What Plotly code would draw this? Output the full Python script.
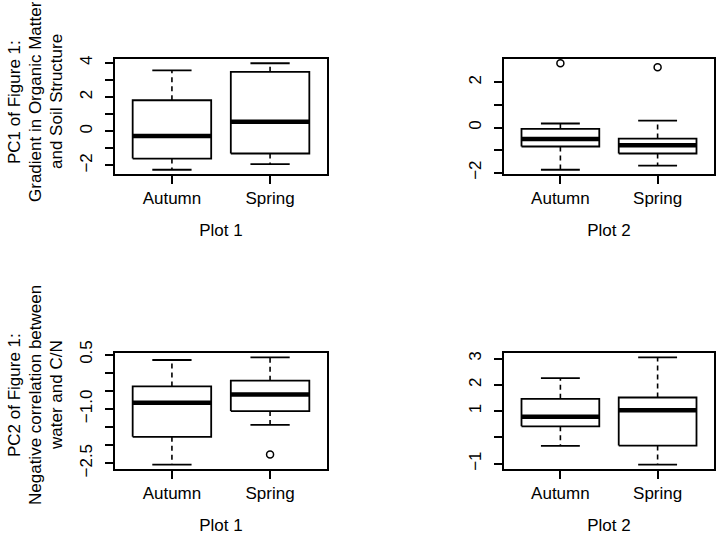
import plotly.graph_objects as go

# ---------------- data ----------------
categories = ["Autumn", "Spring"]
x_titles = ["Plot 1", "Plot 2", "Plot 1", "Plot 2"]

# PC1, Plot 1
pc1_p1_lower = [-2.25, -1.92]
pc1_p1_q1 = [-1.60, -1.30]
pc1_p1_median = [-0.28, 0.55]
pc1_p1_q3 = [1.81, 3.47]
pc1_p1_upper = [3.55, 3.97]
pc1_p1_outliers = [[], []]

# PC1, Plot 2
pc1_p2_lower = [-1.87, -1.69]
pc1_p2_q1 = [-0.84, -1.15]
pc1_p2_median = [-0.51, -0.78]
pc1_p2_q3 = [-0.06, -0.49]
pc1_p2_upper = [0.18, 0.31]
pc1_p2_outliers = [[2.85], [2.67]]

# PC2, Plot 1
pc2_p1_lower = [-2.54, -1.44]
pc2_p1_q1 = [-1.77, -1.06]
pc2_p1_median = [-0.83, -0.60]
pc2_p1_q3 = [-0.38, -0.22]
pc2_p1_upper = [0.35, 0.425]
pc2_p1_outliers = [[], [-2.26]]

# PC2, Plot 2
pc2_p2_lower = [-0.32, -1.04]
pc2_p2_q1 = [0.42, -0.31]
pc2_p2_median = [0.79, 1.03]
pc2_p2_q3 = [1.47, 1.52]
pc2_p2_upper = [2.26, 3.05]
pc2_p2_outliers = [[], []]

# y tick values / labels per panel
pc1_p1_ticks = [-2, -1, 0, 1, 2, 3, 4]
pc1_p1_ticklabels = ["−2", "", "0", "", "2", "", "4"]
pc1_p2_ticks = [-2, -1, 0, 1, 2]
pc1_p2_ticklabels = ["−2", "", "0", "", "2"]
pc2_p1_ticks = [-2.5, -2.0, -1.5, -1.0, -0.5, 0.0, 0.5]
pc2_p1_ticklabels = ["−2.5", "", "", "−1.0", "", "", "0.5"]
pc2_p2_ticks = [-1, 0, 1, 2, 3]
pc2_p2_ticklabels = ["−1", "", "1", "2", "3"]

pc1_title_lines = ["PC1 of Figure 1:", "Gradient in Organic Matter", "and Soil Structure"]
pc2_title_lines = ["PC2 of Figure 1:", "Negative correlation between", "water and C/N"]

# ---------------- figure ----------------
W, H = 716, 536
FONT = "Liberation Sans, Arial, Helvetica, sans-serif"

panels = [
    dict(lower=pc1_p1_lower, q1=pc1_p1_q1, med=pc1_p1_median, q3=pc1_p1_q3, upper=pc1_p1_upper,
         out=pc1_p1_outliers, ticks=pc1_p1_ticks, labels=pc1_p1_ticklabels, px=(115, 327), py=(59, 174)),
    dict(lower=pc1_p2_lower, q1=pc1_p2_q1, med=pc1_p2_median, q3=pc1_p2_q3, upper=pc1_p2_upper,
         out=pc1_p2_outliers, ticks=pc1_p2_ticks, labels=pc1_p2_ticklabels, px=(504, 714), py=(59, 174)),
    dict(lower=pc2_p1_lower, q1=pc2_p1_q1, med=pc2_p1_median, q3=pc2_p1_q3, upper=pc2_p1_upper,
         out=pc2_p1_outliers, ticks=pc2_p1_ticks, labels=pc2_p1_ticklabels, px=(115, 327), py=(353, 469)),
    dict(lower=pc2_p2_lower, q1=pc2_p2_q1, med=pc2_p2_median, q3=pc2_p2_q3, upper=pc2_p2_upper,
         out=pc2_p2_outliers, ticks=pc2_p2_ticks, labels=pc2_p2_ticklabels, px=(504, 714), py=(353, 469)),
]

fig = go.Figure()
n = len(categories)
half = 0.4      # boxwex 0.8
staple = 0.2    # staplewex 0.5

for i, p in enumerate(panels):
    k = "" if i == 0 else str(i + 1)
    xa, ya = "x" + k, "y" + k
    bx, by, wx, wy, mx, my, ox, oy = [], [], [], [], [], [], [], []
    for j in range(n):
        c = j + 1
        bx += [c - half, c + half, c + half, c - half, c - half, None]
        by += [p["q1"][j], p["q1"][j], p["q3"][j], p["q3"][j], p["q1"][j], None]
        bx += [c - staple, c + staple, None, c - staple, c + staple, None]
        by += [p["upper"][j], p["upper"][j], None, p["lower"][j], p["lower"][j], None]
        wx += [c, c, None, c, c, None]
        wy += [p["q3"][j], p["upper"][j], None, p["q1"][j], p["lower"][j], None]
        mx += [c - half, c + half, None]
        my += [p["med"][j], p["med"][j], None]
        for v in p["out"][j]:
            ox.append(c)
            oy.append(v)
    fig.add_trace(go.Scatter(x=wx, y=wy, mode="lines", xaxis=xa, yaxis=ya, hoverinfo="skip",
                             line=dict(color="black", width=1.6, dash="5px,4px"), showlegend=False))
    fig.add_trace(go.Scatter(x=bx, y=by, mode="lines", xaxis=xa, yaxis=ya, hoverinfo="skip",
                             line=dict(color="black", width=1.8), showlegend=False))
    fig.add_trace(go.Scatter(x=mx, y=my, mode="lines", xaxis=xa, yaxis=ya, hoverinfo="skip",
                             line=dict(color="black", width=4.5), showlegend=False))
    if ox:
        fig.add_trace(go.Scatter(x=ox, y=oy, mode="markers", xaxis=xa, yaxis=ya, hoverinfo="skip",
                                 marker=dict(symbol="circle-open", size=7, color="black",
                                             line=dict(width=1.5, color="black")), showlegend=False))

    # R-style 4% range extension
    vals = p["lower"] + p["upper"] + [v for o in p["out"] for v in o]
    lo, hi = min(vals), max(vals)
    ext = 0.04 * (hi - lo)
    xext = 0.04 * n

    xdom = [p["px"][0] / W, p["px"][1] / W]
    ydom = [1 - p["py"][1] / H, 1 - p["py"][0] / H]
    axis_common = dict(showline=True, mirror=True, linecolor="black", linewidth=1.8,
                       ticks="outside", ticklen=8, tickwidth=1.6, tickcolor="black",
                       showgrid=False, zeroline=False, fixedrange=True, automargin=False,
                       tickfont=dict(family=FONT, size=17, color="black"))
    fig.update_layout(**{
        ("xaxis" + k): dict(axis_common, domain=xdom, anchor=ya, range=[0.5 - xext, n + 0.5 + xext],
                            tickmode="array", tickvals=list(range(1, n + 1)), ticktext=categories,
                            ticklabelstandoff=0,
                            title=dict(text=x_titles[i], font=dict(family=FONT, size=17, color="black"),
                                       standoff=17)),
        ("yaxis" + k): dict(axis_common, domain=ydom, anchor=xa, range=[lo - ext, hi + ext],
                            tickmode="array", tickvals=p["ticks"], ticktext=p["labels"],
                            tickangle=-90, ticklabelstandoff=6),
    })

# multi-line y titles (one annotation per line)
line_x = [14, 35, 56]
for lines, yc in [(pc1_title_lines, 102), (pc2_title_lines, 395)]:
    for t, xc in zip(lines, line_x):
        fig.add_annotation(text=t, xref="paper", yref="paper", x=xc / W, y=1 - yc / H,
                           xanchor="center", yanchor="middle", textangle=-90, showarrow=False,
                           font=dict(family=FONT, size=17, color="black"))

fig.update_layout(width=W, height=H, margin=dict(l=0, r=0, t=0, b=0),
                  paper_bgcolor="white", plot_bgcolor="white", showlegend=False)

fig.write_html("out.html",
               post_script="document.body.style.margin='0';document.body.style.padding='0';")
